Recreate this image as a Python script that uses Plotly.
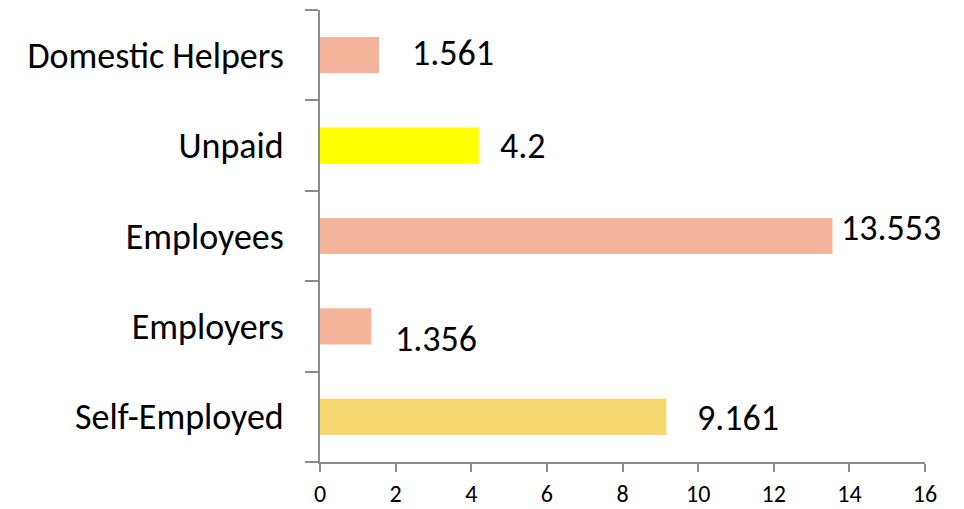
import plotly.graph_objects as go

categories = ["Self-Employed", "Employers", "Employees", "Unpaid", "Domestic Helpers"]
values = [9.161, 1.356, 13.553, 4.2, 1.561]
bar_colors = ["#F5D870", "#F4B49C", "#F4B49C", "#FFFF00", "#F4B49C"]
value_labels = ["9.161", "1.356", "13.553", "4.2", "1.561"]
x_ticks = [0, 2, 4, 6, 8, 10, 12, 14, 16]

# label offsets (pixels) from bar end, mimicking the manual placement in the reference
label_dx = [29, 22, 7, 19, 31]
label_dy = [-1, -13, 8, 0, 2]

FONT = "Calibri, Carlito, Lato, sans-serif"

fig = go.Figure()
fig.add_trace(go.Bar(
    y=categories, x=values, orientation="h",
    marker=dict(color=bar_colors, line=dict(width=0)),
    width=0.4, hoverinfo="x+y",
))

for cat, v, txt, dx, dy in zip(categories, values, value_labels, label_dx, label_dy):
    fig.add_annotation(x=v, y=cat, text=txt, showarrow=False,
                       xanchor="left", yanchor="middle", xshift=dx, yshift=dy,
                       font=dict(family=FONT, size=36, color="#000000"))

axis_col = "#8C8C8C"
fig.update_layout(
    width=964, height=509,
    margin=dict(l=320, r=39, t=10, b=47, autoexpand=False),
    plot_bgcolor="white", paper_bgcolor="white",
    showlegend=False,
    font=dict(family=FONT, color="#000000"),
    xaxis=dict(range=[0, 16], tickvals=x_ticks, showgrid=False, zeroline=False,
               automargin=False,
               showline=True, linecolor=axis_col, linewidth=2,
               ticks="outside", ticklen=8, tickwidth=2, tickcolor=axis_col,
               ticklabelstandoff=1,
               tickfont=dict(family=FONT, size=24, color="#000000")),
    yaxis=dict(showgrid=False, zeroline=False, showline=True, linecolor=axis_col, linewidth=2,
               automargin=False,
               ticks="outside", tickson="boundaries", ticklen=13, tickwidth=2, tickcolor=axis_col,
               ticklabelstandoff=27,
               tickfont=dict(family=FONT, size=36, color="#000000")),
)

fig.write_html("out.html", config={"displayModeBar": False},
               post_script="document.body.style.margin='0';")
